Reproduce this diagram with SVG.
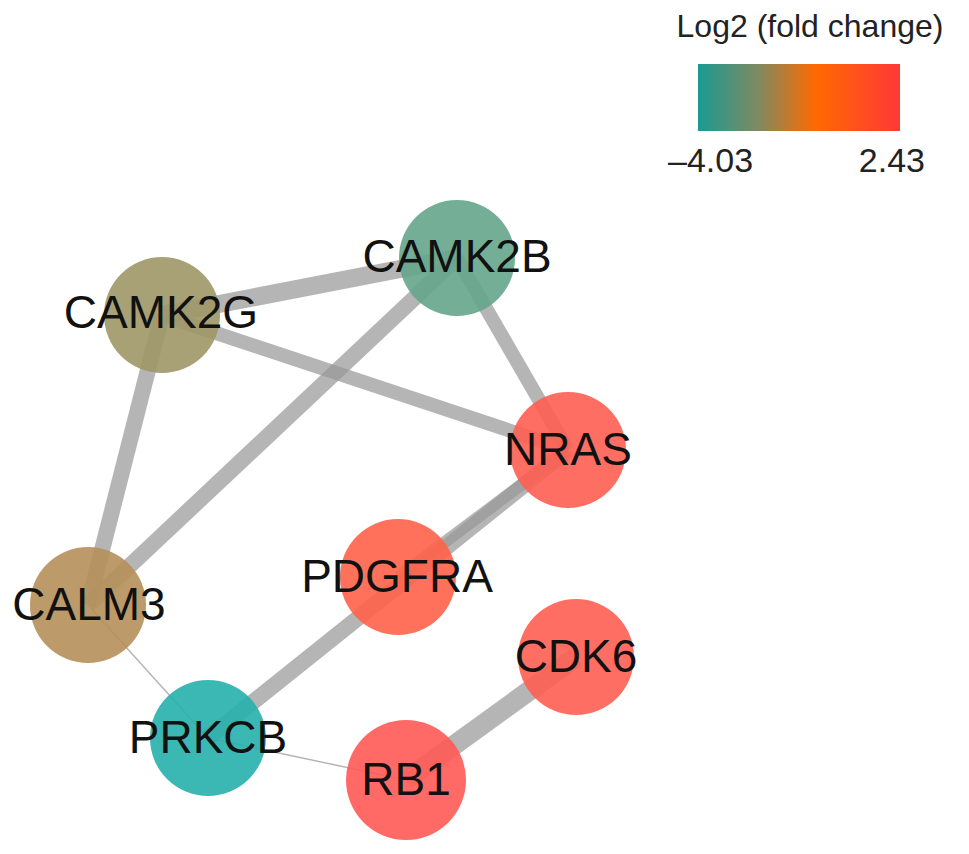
<svg xmlns="http://www.w3.org/2000/svg" width="969" height="854" viewBox="0 0 969 854">
<defs>
<linearGradient id="lfc" x1="0" y1="0" x2="1" y2="0">
<stop offset="0" stop-color="#1a9a92"/>
<stop offset="0.3" stop-color="#7f8a60"/>
<stop offset="0.58" stop-color="#ff6a00"/>
<stop offset="1" stop-color="#ff3838"/>
</linearGradient>
<style>
.e{stroke:#999;stroke-opacity:0.72;fill:none;stroke-linecap:butt}
.n{opacity:0.9}
.t{font-family:"Liberation Sans",Arial,sans-serif;font-size:46px;fill:#111;text-anchor:middle}
.l{font-family:"Liberation Sans",Arial,sans-serif;fill:#222}
</style>
</defs>
<rect width="969" height="854" fill="#fff"/>
<g id="legend">
<text class="l" x="810" y="37" font-size="32" text-anchor="middle">Log2 (fold change)</text>
<rect x="698" y="64" width="202" height="67" fill="url(#lfc)"/>
<text class="l" x="668" y="172" font-size="34">–4.03</text>
<text class="l" x="925" y="172" font-size="34" text-anchor="end">2.43</text>
</g>
<g id="edges">
<line class="e" x1="162" y1="315" x2="457" y2="258" stroke-width="18"/>
<line class="e" x1="162" y1="315" x2="568" y2="450" stroke-width="14"/>
<line class="e" x1="457" y1="258" x2="568" y2="450" stroke-width="14"/>
<line class="e" x1="457" y1="258" x2="88" y2="605" stroke-width="16"/>
<line class="e" x1="162" y1="315" x2="88" y2="605" stroke-width="16"/>
<line class="e" x1="568" y1="450" x2="208" y2="738" stroke-width="16"/>
<line class="e" x1="568" y1="450" x2="398" y2="577" stroke-width="12"/>
<line class="e" x1="88" y1="605" x2="208" y2="738" stroke-width="1.5"/>
<line class="e" x1="208" y1="738" x2="406" y2="780" stroke-width="1.5"/>
<line class="e" x1="406" y1="780" x2="576" y2="657" stroke-width="20"/>
</g>
<g id="CAMK2G"><circle class="n" cx="162" cy="315" r="58" fill="#9d9766"/><text class="t" x="161" y="328">CAMK2G</text></g>
<g id="CAMK2B"><circle class="n" cx="457" cy="258" r="58" fill="#65a58c"/><text class="t" x="457" y="272">CAMK2B</text></g>
<g id="NRAS"><circle class="n" cx="568" cy="450" r="58" fill="#ff5e52"/><text class="t" x="568" y="465">NRAS</text></g>
<g id="CALM3"><circle class="n" cx="88" cy="605" r="58" fill="#b58f5a"/><text class="t" x="89" y="620">CALM3</text></g>
<g id="PDGFRA"><circle class="n" cx="398" cy="577" r="58" fill="#ff6249"/><text class="t" x="397" y="592">PDGFRA</text></g>
<g id="CDK6"><circle class="n" cx="576" cy="657" r="58" fill="#ff5e52"/><text class="t" x="576" y="672">CDK6</text></g>
<g id="PRKCB"><circle class="n" cx="208" cy="738" r="58" fill="#27b0ac"/><text class="t" x="208" y="753">PRKCB</text></g>
<g id="RB1"><circle class="n" cx="406" cy="780" r="60" fill="#ff5a57"/><text class="t" x="406" y="795">RB1</text></g>
</svg>
